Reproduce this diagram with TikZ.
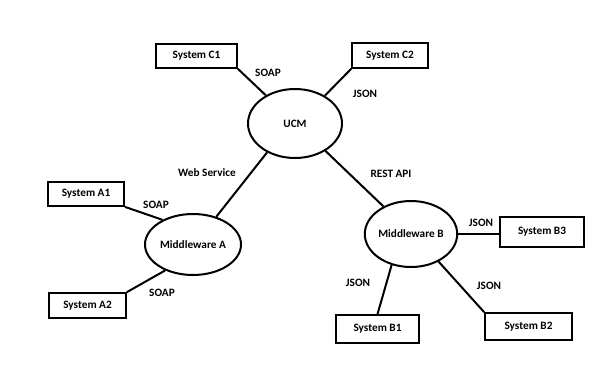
\documentclass[tikz,border=0pt]{standalone}
\usepackage{fontspec}
\setmainfont{Carlito}
\usetikzlibrary{shapes.geometric}
\begin{document}
\begin{tikzpicture}[x=0.75pt,y=-0.75pt,
  every node/.style={font=\fontsize{8.45pt}{9pt}\selectfont\bfseries},
  sysbox/.style={draw=black, line width=1.65pt, rectangle, inner sep=0pt},
  hub/.style={draw=black, line width=1.5pt, ellipse, inner sep=0pt},
  link/.style={draw=black, line width=1.5pt},
  lbl/.style={inner sep=1pt}]
\useasboundingbox[fill=white] (0,0) rectangle (611,387);
% hubs
\node[hub, minimum width=70.5pt, minimum height=51.75pt] (ucm) at (295,123.5) {UCM};
\node[hub, minimum width=72pt, minimum height=45.75pt] (mwa) at (193,244.5) {Middleware A};
\node[hub, minimum width=67.5pt, minimum height=49.5pt] (mwb) at (411,234) {Middleware B};
% systems
\node[sysbox, minimum width=60.4pt, minimum height=17.6pt] (c1) at (196.5,56) {System C1};
\node[sysbox, minimum width=56.6pt, minimum height=18.4pt] (c2) at (390,55.5) {System C2};
\node[sysbox, minimum width=56.6pt, minimum height=17.6pt] (a1) at (86,194) {System A1};
\node[sysbox, minimum width=57.4pt, minimum height=18.4pt] (a2) at (87.5,305.5) {System A2};
\node[sysbox, minimum width=62.6pt, minimum height=22.1pt] (b3) at (542,232) {System B3};
\node[sysbox, minimum width=61.9pt, minimum height=20.6pt] (b1) at (377.5,329) {System B1};
\node[sysbox, minimum width=64.9pt, minimum height=19.9pt] (b2) at (528.5,326.5) {System B2};
% connectors
\draw[link] (c1.south east) -- (ucm.136);
\draw[link] (c2.south west) -- (ucm.43);
\draw[link] (ucm.226) -- (mwa.50);
\draw[link] (ucm.318) -- (mwb.135);
\draw[link] (a1.south east) -- (mwa.141);
\draw[link] (a2.north east) -- (mwa.223);
\draw[link] (mwb.east) -- (mwb.east -| b3.west);
\draw[link] (mwb.238) -- (b1.north);
\draw[link] (mwb.315) -- (b2.north west);
% labels
\node[lbl] (lsoapc) at (268,73) {SOAP};
\node[lbl] (ljsonc) at (365,94) {JSON};
\node[lbl] (lws) at (207,173) {Web Service};
\node[lbl] (lrest) at (391,174) {REST API};
\node[lbl] (lsoapa1) at (156,205) {SOAP};
\node[lbl] (lsoapa2) at (162,293) {SOAP};
\node[lbl] (ljsonb3) at (481,223) {JSON};
\node[lbl] (ljsonb1) at (358,283) {JSON};
\node[lbl] (ljsonb2) at (489,286) {JSON};
\end{tikzpicture}
\end{document}
